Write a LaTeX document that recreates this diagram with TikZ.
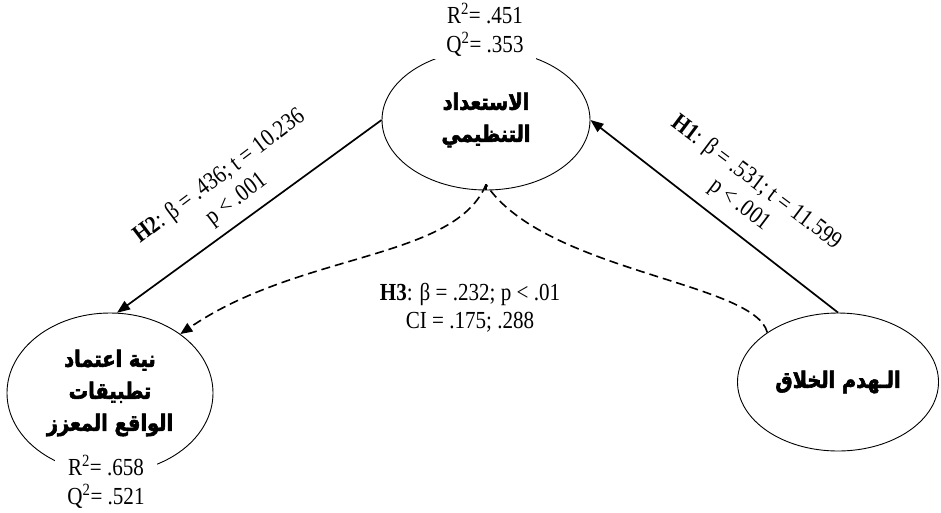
\documentclass[tikz,border=0pt]{standalone}
\usepackage{fontspec}
\setmainfont{Liberation Serif}[FakeStretch=0.86]
\newfontfamily\arabicfont[Script=Arabic, FakeStretch=0.86, FakeBold=2.6]{DejaVu Sans}
\TeXXeTstate=1
\usetikzlibrary{shapes.geometric,arrows.meta}
\tikzset{
  latent/.style={ellipse, draw=black, line width=0.9pt, inner sep=0pt,
    font=\arabicfont\bfseries\fontsize{22.5}{32}\selectfont, align=center},
  stat/.style={fill=white, inner xsep=12pt, inner ysep=2pt, align=center,
    font=\fontsize{24.5}{29}\selectfont},
  pathlbl/.style={align=center, inner sep=0pt, font=\fontsize{24.5}{28}\selectfont},
  solidarrow/.style={line width=1.7pt, -{Triangle[length=13pt,width=10pt]}},
  dasharrow/.style={line width=1.6pt, dash pattern=on 9pt off 5pt, -{Triangle[length=12pt,width=10pt]}},
  dashline/.style={line width=1.6pt, dash pattern=on 9pt off 5pt}
}
\begin{document}
\begin{tikzpicture}[x=1pt,y=-1pt]
\useasboundingbox[fill=white] (0,0) rectangle (941,512);
% latent variables
\node[latent, minimum width=208pt, minimum height=140pt] (org) at (486,120)
  {\beginR الاستعداد\endR\\\beginR التنظيمي\endR};
\node[latent, minimum width=206pt, minimum height=160pt] (nia) at (110,393)
  {\beginR نية اعتماد\endR\\\beginR تطبيقات\endR\\\beginR الواقع المعزز\endR};
\node[latent, minimum width=201pt, minimum height=138pt] (cd) at (838,382)
  {\beginR الـهدم الخلاق\endR};
% R2 / Q2
\node[stat] (orgstat) at (485,30) {R\textsuperscript{2}= .451\\Q\textsuperscript{2}= .353};
\node[stat] (niastat) at (106,482) {R\textsuperscript{2}= .658\\Q\textsuperscript{2}= .521};
% paths
\draw[solidarrow] (cd.north) -- (org.east);
\draw[solidarrow] (org.west) -- (nia.85);
\coordinate (j) at ([yshift=6pt]org.south);
\draw[dashline] (org.south) -- (j);
\draw[dasharrow] (j) .. controls (455,260) and (300,252) .. (nia.40);
\draw[dashline] (cd.145) .. controls (755,282) and (545,272) .. (j);
% labels
\node[pathlbl, rotate=-37] (h1) at (748,194) {\textbf{H1}: β = .531; t = 11.599\\p < .001};
\node[pathlbl, rotate=37] (h2) at (228,188) {\textbf{H2}: β = .436; t = 10.236\\p < .001};
\node[pathlbl] (h3) at (470,308) {\textbf{H3}: β = .232; p < .01\\CI = .175; .288};
\end{tikzpicture}
\end{document}
